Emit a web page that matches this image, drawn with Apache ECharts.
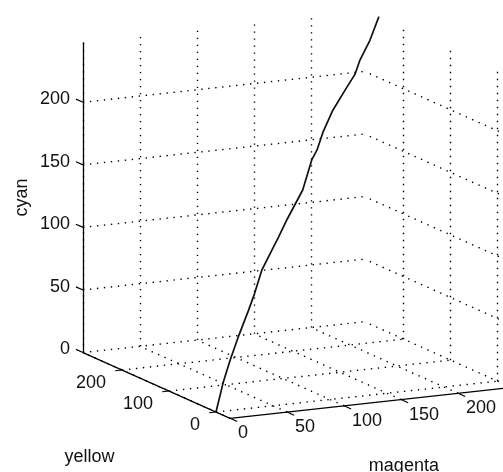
<!DOCTYPE html>
<html>
<head>
<meta charset="utf-8">
<script src="https://cdn.jsdelivr.net/npm/echarts@6/dist/echarts.min.js"></script>
<style>
html,body{margin:0;padding:0;background:#fff;}
#chart{width:503px;height:472px;}
</style>
</head>
<body>
<div id="chart"></div>
<script>
// ---- data ----
const magenta = [0, 10, 20, 31, 45, 54, 64, 78, 87, 99, 121, 134, 141, 149, 163, 180, 194, 201, 215, 227];
const yellow  = [0, 9, 18, 28, 40, 49, 58, 70, 78, 89, 109, 121, 127, 134, 147, 162, 175, 181, 194, 204];
const cyan    = [0, 21, 37, 52, 70, 81, 97, 110, 118, 129, 147, 168, 174, 186, 200, 212, 221, 231, 243, 259];

const magentaTicks = [0, 50, 100, 150, 200];
const yellowTicks  = [0, 100, 200];
const cyanTicks    = [0, 50, 100, 150, 200];

const magentaRange = [0, 247];
const yellowRange  = [-30, 283];
const cyanRange    = [0, 248];

// ---- orthographic view (screen units per data unit) ----
const V = {ox: 216, oy: 412, ax: 1.14, ay: -0.125, bx: -0.47, by: -0.21, cz: -1.2515};
function P(m, y, z) {
  return [V.ox + V.ax * m + V.bx * y, V.oy + V.ay * m + V.by * y + V.cz * z];
}

const mMin = magentaRange[0], mMax = magentaRange[1];
const yMin = yellowRange[0], yMax = yellowRange[1];
const zMin = cyanRange[0], zMax = cyanRange[1];

// grid lines on the three back planes
const grid = [];
function seg(a, b) { grid.push({coords: [a, b]}); }
// floor z=0
magentaTicks.forEach(m => seg(P(m, yMin, 0), P(m, yMax, 0)));
yellowTicks.forEach(y => seg(P(mMin, y, 0), P(mMax, y, 0)));
// back wall y = yMax
magentaTicks.forEach(m => seg(P(m, yMax, zMin), P(m, yMax, zMax)));
cyanTicks.forEach(z => seg(P(mMin, yMax, z), P(mMax, yMax, z)));
// right wall m = mMax
yellowTicks.forEach(y => seg(P(mMax, y, zMin), P(mMax, y, zMax)));
cyanTicks.forEach(z => seg(P(mMax, yMin, z), P(mMax, yMax, z)));

// axis lines
const axes = [
  {coords: [P(mMin, yMax, zMin), P(mMin, yMax, zMax)]},
  {coords: [P(mMin, yMin, 0), P(mMin, yMax, 0)]},
  {coords: [P(mMin, yMin, 0), P(mMax, yMin, 0)]}
];
// tick marks
const ticks = [];
cyanTicks.forEach(z => ticks.push({coords: [P(mMin, yMax, z), P(mMin, yMax + 15, z)]}));
yellowTicks.forEach(y => ticks.push({coords: [P(mMin, y, 0), P(mMin - 6, y, 0)]}));
magentaTicks.forEach(m => ticks.push({coords: [P(m, yMin, 0), P(m, yMin - 15, 0)]}));

// text labels
const texts = [];
cyanTicks.forEach(z => texts.push({p: P(mMin, yMax + 15, z), dx: -6, dy: 0, t: String(z), align: 'right'}));
yellowTicks.forEach(y => texts.push({p: P(mMin, y, 0), dx: -16, dy: 13, t: String(y), align: 'right'}));
magentaTicks.forEach(m => texts.push({p: P(m, yMin, 0), dx: 8, dy: 15, t: String(m), align: 'left'}));
texts.push({p: P(mMin, yMax, (zMin + zMax) / 2), dx: -61, dy: 0, t: 'cyan', align: 'center', rot: Math.PI / 2});
texts.push({p: P(mMin, (yMin + yMax) / 2, 0), dx: -67, dy: 72, t: 'yellow', align: 'center'});
texts.push({p: P((mMin + mMax) / 2, yMin, 0), dx: 33, dy: 63, t: 'magenta', align: 'center'});

const curve = magenta.map((m, i) => P(m, yellow[i], cyan[i]));

const chart = echarts.init(document.getElementById('chart'), null, {renderer: 'canvas'});
chart.setOption({
  animation: false,
  backgroundColor: '#ffffff',
  grid: {left: 0, right: 0, top: 0, bottom: 0},
  xAxis: {type: 'value', min: 0, max: 503, show: false},
  yAxis: {type: 'value', min: 0, max: 472, inverse: true, show: false},
  series: [
    {type: 'lines', coordinateSystem: 'cartesian2d', silent: true, z: 1,
     data: grid, lineStyle: {color: '#000', width: 1.4, type: [1.4, 5.6], opacity: 1}},
    {type: 'lines', coordinateSystem: 'cartesian2d', silent: true, z: 2,
     data: axes, lineStyle: {color: '#000', width: 1.3, opacity: 1}},
    {type: 'lines', coordinateSystem: 'cartesian2d', silent: true, z: 2,
     data: ticks, lineStyle: {color: '#000', width: 1.2, opacity: 1}},
    {type: 'line', data: curve, showSymbol: false, smooth: false, silent: true, z: 3,
     lineStyle: {color: '#111', width: 1.7}},
    {type: 'custom', silent: true, z: 4,
     data: texts.map(d => d.p),
     renderItem: function (params, api) {
       const d = texts[params.dataIndex];
       const c = api.coord(d.p);
       return {
         type: 'text', x: c[0] + d.dx, y: c[1] + d.dy, rotation: d.rot || 0,
         style: {text: d.t, fill: '#111', font: '18px "Liberation Sans", Arial, sans-serif',
                 align: d.align, verticalAlign: 'middle'}
       };
     }}
  ]
});
</script>
</body>
</html>
